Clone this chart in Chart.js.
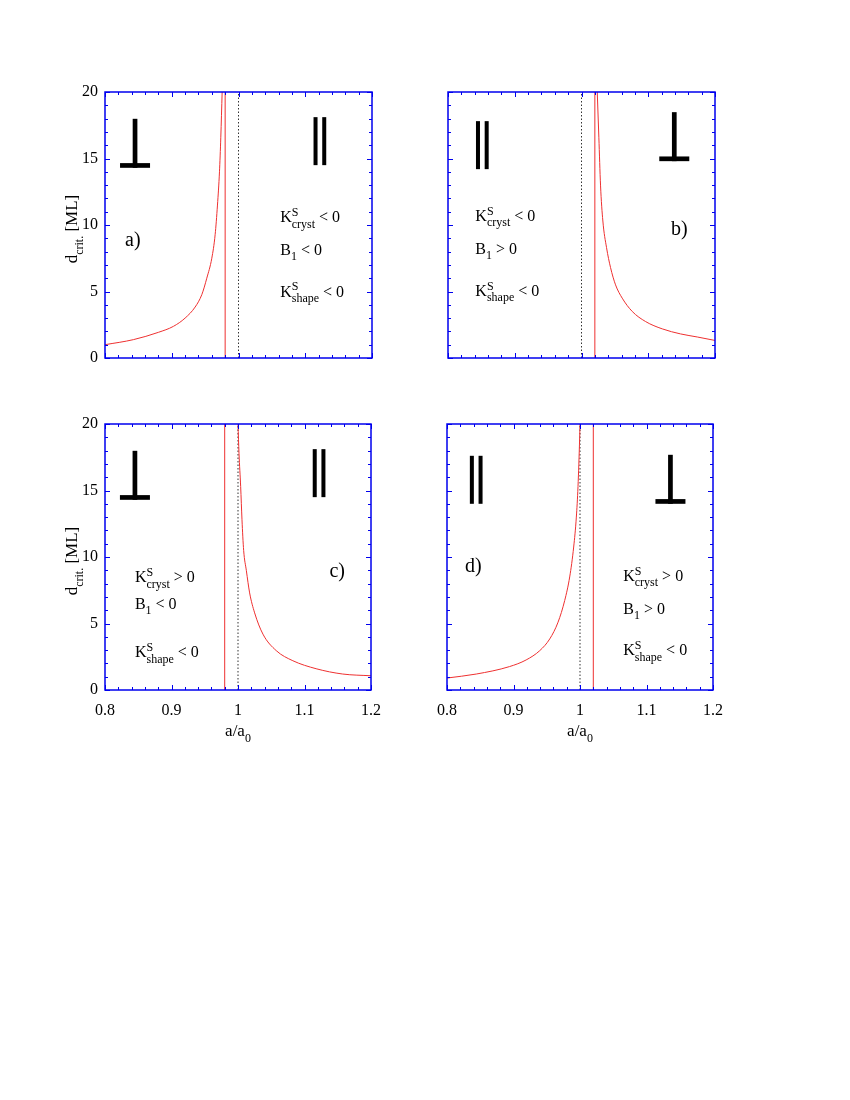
<!DOCTYPE html>
<html>
<head>
<meta charset="utf-8">
<script src="https://cdn.jsdelivr.net/npm/chart.js@4.4.1/dist/chart.umd.min.js"></script>
<style>
  html, body { margin: 0; padding: 0; background: #fff; }
  body { width: 850px; height: 1100px; position: relative; }
  canvas { position: absolute; }
</style>
</head>
<body>
<canvas id="ca" width="357" height="356" style="left:35px;top:72px"></canvas>
<canvas id="cb" width="357" height="356" style="left:378px;top:72px"></canvas>
<canvas id="cc" width="357" height="356" style="left:35px;top:404px"></canvas>
<canvas id="cd" width="357" height="356" style="left:377px;top:404px"></canvas>
<script>
// tick labels shared by all four panels
const xTickValues = [0.8, 0.9, 1.0, 1.1, 1.2];
const yTickValues = [0, 5, 10, 15, 20];

// panel a) curve
const aX = [0.80, 0.8425, 0.88, 0.9025, 0.92, 0.935, 0.945, 0.9525, 0.96, 0.965, 0.9685, 0.9715, 0.9735, 0.9755];
const aY = [1.0, 1.38, 1.93, 2.38, 3.0, 3.83, 4.76, 6.0, 7.5, 9.27, 11.5, 14.0, 16.6, 20];
const aPoleX = [0.98, 0.98];

// panel b)
const bX = [1.0236, 1.026, 1.0285, 1.032, 1.0375, 1.0435, 1.051, 1.061, 1.076, 1.096, 1.121, 1.1485, 1.1735, 1.2];
const bY = [20, 16.6, 13.0, 10.3, 8.3, 6.8, 5.5, 4.5, 3.5, 2.74, 2.19, 1.81, 1.58, 1.32];
const bPoleX = [1.02, 1.02];

// panel c)
const cX = [1.0, 1.0015, 1.004, 1.006, 1.0085, 1.0125, 1.0175, 1.025, 1.0375, 1.0575, 1.0825, 1.1175, 1.1575, 1.2];
const cY = [20, 17.8, 15.3, 12.8, 10.5, 9.0, 7.3, 5.8, 4.2, 2.96, 2.2, 1.6, 1.2, 1.07];
const cPoleX = [0.98, 0.98];

// panel d)
const dX = [0.8, 0.844, 0.894, 0.919, 0.9395, 0.9545, 0.967, 0.977, 0.9845, 0.9905, 0.9945, 0.997, 0.9995, 1.0];
const dY = [0.9, 1.2, 1.76, 2.26, 2.96, 3.84, 5.1, 6.73, 8.5, 10.75, 13.0, 15.3, 19.0, 20];
const dPoleX = [1.02, 1.02];

const poleY = [0, 20];
const refX = [1, 1];
const refY = [0, 20];

const SERIF = '"Liberation Serif", "Times New Roman", serif';
const RED = '#ee3030';
const BLUE = '#0000ee';

function pts(xs, ys) {
    return xs.map((x, i) => ({ x: x, y: ys[i] }));
}

// little helpers for the rich labels (sub/superscripts)
const n = t => ({ t: t, k: 'n' });
const sup = t => ({ t: t, k: 'sup', hold: true });
const sub = t => ({ t: t, k: 'sub' });

function kCryst(sign) { return [n('K'), sup('S'), sub('cryst'), n(' ' + sign + ' 0')]; }
function bOne(sign) { return [n('B'), sub('1'), n(' ' + sign + ' 0')]; }
function kShape(sign) { return [n('K'), sup('S'), sub('shape'), n(' ' + sign + ' 0')]; }

function layoutRich(ctx, parts, size) {
    const small = Math.round(size * 0.72);
    let x = 0;
    const items = [];
    parts.forEach(p => {
        const fs = p.k === 'n' ? size : small;
        ctx.font = fs + 'px ' + SERIF;
        const w = ctx.measureText(p.t).width;
        const dy = p.k === 'sup' ? -size * 0.4 : (p.k === 'sub' ? size * 0.33 : 0);
        items.push({ t: p.t, x: x, dy: dy, fs: fs });
        if (!p.hold) x += w;
    });
    return { items: items, width: x };
}

function drawRich(ctx, parts, x, y, size, center) {
    const lay = layoutRich(ctx, parts, size);
    const x0 = center ? x - lay.width / 2 : x;
    ctx.textAlign = 'left';
    ctx.textBaseline = 'alphabetic';
    lay.items.forEach(it => {
        ctx.font = it.fs + 'px ' + SERIF;
        ctx.fillText(it.t, x0 + it.x, y + it.dy);
    });
}

function drawPerp(ctx, cx, bottom) {
    ctx.fillRect(cx - 15, bottom - 4.7, 30, 4.7);
    ctx.fillRect(cx - 2.35, bottom - 49, 4.7, 49);
}

function drawPara(ctx, cx, bottom) {
    ctx.fillRect(cx - 6.4, bottom - 48, 4, 48);
    ctx.fillRect(cx + 2.3, bottom - 48, 4, 48);
}

// blue box with inward ticks on all four sides, plus the annotations
const framePlugin = {
    id: 'frame',
    afterDatasetsDraw(chart) {
        const ctx = chart.ctx;
        const a = chart.chartArea;
        const xs = chart.scales.x, ys = chart.scales.y;
        ctx.save();
        ctx.strokeStyle = BLUE;
        ctx.lineWidth = 1;
        ctx.beginPath();
        for (let i = 0; i <= 20; i++) {
            const px = Math.round(xs.getPixelForValue(0.8 + i * 0.02)) + 0.5;
            const len = i % 5 === 0 ? 5 : 3;
            ctx.moveTo(px, a.bottom); ctx.lineTo(px, a.bottom - len);
            ctx.moveTo(px, a.top); ctx.lineTo(px, a.top + len);
        }
        for (let i = 0; i <= 20; i++) {
            const py = Math.round(ys.getPixelForValue(i)) + 0.5;
            const len = i % 5 === 0 ? 5 : 3;
            ctx.moveTo(a.left, py); ctx.lineTo(a.left + len, py);
            ctx.moveTo(a.right, py); ctx.lineTo(a.right - len, py);
        }
        ctx.stroke();
        ctx.lineWidth = 1.5;
        ctx.strokeRect(a.left, a.top, a.right - a.left, a.bottom - a.top);
        ctx.restore();
    },
    afterDraw(chart) {
        const p = chart.options.plugins.frame;
        const ctx = chart.ctx;
        const a = chart.chartArea;
        const xs = chart.scales.x, ys = chart.scales.y;
        ctx.save();
        ctx.fillStyle = '#000';
        p.symbols.forEach(s => {
            const cx = xs.getPixelForValue(s.x), by = ys.getPixelForValue(s.y);
            if (s.kind === 'perp') drawPerp(ctx, cx, by); else drawPara(ctx, cx, by);
        });
        p.notes.forEach(nt => {
            drawRich(ctx, nt.parts, xs.getPixelForValue(nt.x), ys.getPixelForValue(nt.y), 16, false);
        });
        drawRich(ctx, [n(p.tag.text)], xs.getPixelForValue(p.tag.x), ys.getPixelForValue(p.tag.y), 20, false);
        if (p.yTitle) {
            ctx.save();
            ctx.translate(a.left - 28, (a.top + a.bottom) / 2 + 4);
            ctx.rotate(-Math.PI / 2);
            drawRich(ctx, [n('d'), sub('crit.'), n(' [ML]')], 0, 0, 17, true);
            ctx.restore();
        }
        if (p.xTitle) {
            drawRich(ctx, [n('a/a'), sub('0')], (a.left + a.right) / 2, a.bottom + 46, 17, true);
        }
        ctx.restore();
    }
};

function makePanel(id, cfg) {
    const ctx = document.getElementById(id).getContext('2d');
    const line = { showLine: true, pointRadius: 0, borderWidth: 1 };
    new Chart(ctx, {
        type: 'scatter',
        data: {
            datasets: [
                Object.assign({ data: pts(cfg.curveX, cfg.curveY), borderColor: RED, cubicInterpolationMode: 'monotone' }, line),
                Object.assign({ data: pts(cfg.poleX, poleY), borderColor: RED }, line),
                Object.assign({ data: pts(refX, refY), borderColor: '#333', borderDash: [1.5, 2] }, line)
            ]
        },
        options: {
            responsive: false,
            animation: false,
            events: [],
            layout: { padding: { left: 0, top: 20, right: 20, bottom: 0 } },
            plugins: {
                legend: { display: false },
                tooltip: { enabled: false },
                frame: cfg
            },
            scales: {
                x: {
                    type: 'linear', min: 0.8, max: 1.2,
                    afterBuildTicks: s => { s.ticks = xTickValues.map(v => ({ value: v })); },
                    afterFit: s => { s.height = 70; },
                    grid: { display: false, drawTicks: false },
                    border: { display: false },
                    ticks: {
                        display: cfg.xTitle, padding: 11, color: '#000', maxRotation: 0, autoSkip: false,
                        font: { family: SERIF, size: 16 },
                        callback: v => String(+v.toFixed(2))
                    }
                },
                y: {
                    type: 'linear', min: 0, max: 20,
                    afterBuildTicks: s => { s.ticks = yTickValues.map(v => ({ value: v })); },
                    afterFit: s => { s.width = 70; },
                    grid: { display: false, drawTicks: false },
                    border: { display: false },
                    ticks: {
                        display: cfg.yTitle, padding: 7, color: '#000', autoSkip: false,
                        font: { family: SERIF, size: 16 }
                    }
                }
            }
        },
        plugins: [framePlugin]
    });
}

makePanel('ca', {
    curveX: aX, curveY: aY, poleX: aPoleX, xTitle: false, yTitle: true,
    tag: { text: 'a)', x: 0.83, y: 8.4 },
    symbols: [{ kind: 'perp', x: 0.845, y: 14.3 }, { kind: 'para', x: 1.122, y: 14.5 }],
    notes: [
        { x: 1.0625, y: 10.2, parts: kCryst('<') },
        { x: 1.0625, y: 7.75, parts: bOne('<') },
        { x: 1.0625, y: 4.6, parts: kShape('<') }
    ]
});

makePanel('cb', {
    curveX: bX, curveY: bY, poleX: bPoleX, xTitle: false, yTitle: false,
    tag: { text: 'b)', x: 1.134, y: 9.25 },
    symbols: [{ kind: 'para', x: 0.8515, y: 14.2 }, { kind: 'perp', x: 1.139, y: 14.8 }],
    notes: [
        { x: 0.841, y: 10.3, parts: kCryst('<') },
        { x: 0.841, y: 7.85, parts: bOne('>') },
        { x: 0.841, y: 4.65, parts: kShape('<') }
    ]
});

makePanel('cc', {
    curveX: cX, curveY: cY, poleX: cPoleX, xTitle: true, yTitle: true,
    tag: { text: 'c)', x: 1.1375, y: 8.5 },
    symbols: [{ kind: 'perp', x: 0.845, y: 14.3 }, { kind: 'para', x: 1.122, y: 14.5 }],
    notes: [
        { x: 0.845, y: 8.1, parts: kCryst('>') },
        { x: 0.845, y: 6.1, parts: bOne('<') },
        { x: 0.845, y: 2.46, parts: kShape('<') }
    ]
});

makePanel('cd', {
    curveX: dX, curveY: dY, poleX: dPoleX, xTitle: true, yTitle: false,
    tag: { text: 'd)', x: 0.827, y: 8.9 },
    symbols: [{ kind: 'para', x: 0.844, y: 14.0 }, { kind: 'perp', x: 1.136, y: 14.0 }],
    notes: [
        { x: 1.065, y: 8.2, parts: kCryst('>') },
        { x: 1.065, y: 5.7, parts: bOne('>') },
        { x: 1.065, y: 2.6, parts: kShape('<') }
    ]
});
</script>
</body>
</html>
